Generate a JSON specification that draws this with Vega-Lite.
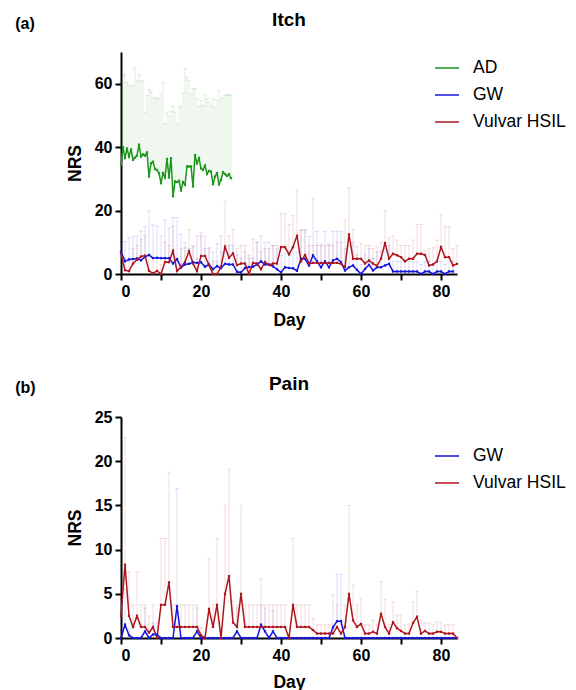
{
  "$schema": "https://vega.github.io/schema/vega-lite/v6.json",
  "padding": {"left": 15, "top": 11, "right": 5, "bottom": 5},
  "config": {
    "font": "Liberation Sans",
    "view": {"stroke": null},
    "axis": {"domainColor": "black", "domainWidth": 2, "tickColor": "black", "tickWidth": 2, "tickSize": 6, "labelFont": "Liberation Sans", "labelFontSize": 16, "labelFontWeight": "bold", "labelColor": "black", "labelPadding": 3, "titleFont": "Liberation Sans", "titleFontSize": 17.5, "titleFontWeight": "bold", "titleColor": "black", "grid": false},
    "title": {"font": "Liberation Sans", "fontSize": 19, "fontWeight": "bold", "color": "black"},
    "legend": {"title": null, "symbolType": "stroke", "symbolSize": 576, "symbolStrokeWidth": 1.5, "symbolOpacity": 1, "labelFont": "Liberation Sans", "labelFontSize": 17.5, "labelColor": "black", "labelOffset": 13, "rowPadding": 5}
  },
  "resolve": {"scale": {"color": "independent"}, "legend": {"color": "independent"}},
  "spacing": 46,
  "datasets": {
    "itch": [
      {"g":"AD","d":0,"m":34.4,"u":60.4},{"g":"AD","d":0.5,"m":40,"u":62.5},{"g":"AD","d":1,"m":36.5,"u":63},{"g":"AD","d":1.5,"m":39.6,"u":60.4},
      {"g":"AD","d":2,"m":37,"u":59.6},{"g":"AD","d":2.5,"m":39.3,"u":59.2},{"g":"AD","d":3,"m":36,"u":59.4},{"g":"AD","d":3.5,"m":36.7,"u":65.1},
      {"g":"AD","d":4,"m":37.3,"u":61},{"g":"AD","d":4.5,"m":40.8,"u":62.7},{"g":"AD","d":5,"m":37,"u":60.6},{"g":"AD","d":5.5,"m":37.7,"u":61},
      {"g":"AD","d":6,"m":37.3,"u":51},{"g":"AD","d":6.5,"m":38.3,"u":56.3},{"g":"AD","d":7,"m":30.7,"u":58.1},{"g":"AD","d":7.5,"m":34.9,"u":57.5},
      {"g":"AD","d":8,"m":35.4,"u":55.4},{"g":"AD","d":8.5,"m":33.1,"u":55.7},{"g":"AD","d":9,"m":32.8,"u":55.2},{"g":"AD","d":9.5,"m":31.8,"u":55.4},
      {"g":"AD","d":10,"m":28.6,"u":56.8},{"g":"AD","d":10.5,"m":31.8,"u":60.4},{"g":"AD","d":11,"m":30.4,"u":47.4},{"g":"AD","d":11.5,"m":36.3,"u":51},
      {"g":"AD","d":12,"m":30.4,"u":49.7},{"g":"AD","d":12.5,"m":36.5,"u":51.2},{"g":"AD","d":13,"m":24.5,"u":52.9},{"g":"AD","d":13.5,"m":29.2,"u":51},
      {"g":"AD","d":14,"m":29,"u":47.4},{"g":"AD","d":14.5,"m":29.4,"u":52.6},{"g":"AD","d":15,"m":26.3,"u":53.1},{"g":"AD","d":15.5,"m":29,"u":57.1},
      {"g":"AD","d":16,"m":28.1,"u":64.8},{"g":"AD","d":16.5,"m":33.9,"u":62},{"g":"AD","d":17,"m":33.9,"u":61},{"g":"AD","d":17.5,"m":33.9,"u":56.8},
      {"g":"AD","d":18,"m":27.6,"u":58.3},{"g":"AD","d":18.5,"m":37.5,"u":58.5},{"g":"AD","d":19,"m":34.9,"u":55.2},{"g":"AD","d":19.5,"m":36.5,"u":52.9},
      {"g":"AD","d":20,"m":33.3,"u":54.7},{"g":"AD","d":20.5,"m":32.8,"u":53.1},{"g":"AD","d":21,"m":34.2,"u":56.5},{"g":"AD","d":21.5,"m":31.5,"u":55.2},
      {"g":"AD","d":22,"m":32.5,"u":54.2},{"g":"AD","d":22.5,"m":32.3,"u":53.1},{"g":"AD","d":23,"m":28.3,"u":55.2},{"g":"AD","d":23.5,"m":30.7,"u":52.6},
      {"g":"AD","d":24,"m":31.8,"u":54.7},{"g":"AD","d":24.5,"m":28.3,"u":57.8},{"g":"AD","d":25,"m":29.7,"u":55.2},{"g":"AD","d":25.5,"m":32.1,"u":55.7},
      {"g":"AD","d":26,"m":31.5,"u":56.3},{"g":"AD","d":26.5,"m":30.9,"u":56.5},{"g":"AD","d":27,"m":31.5,"u":56.5},{"g":"AD","d":27.5,"m":30.2,"u":56.5},

      {"g":"GW","d":0,"m":7,"u":19},{"g":"GW","d":1,"m":4,"u":10.2},{"g":"GW","d":2,"m":4.6,"u":11.4},{"g":"GW","d":3,"m":4.7,"u":11.8},
      {"g":"GW","d":4,"m":4.9,"u":12},{"g":"GW","d":5,"m":4.3,"u":13.6},{"g":"GW","d":6,"m":5.4,"u":15},{"g":"GW","d":7,"m":6,"u":19.8},
      {"g":"GW","d":8,"m":5,"u":15.5},{"g":"GW","d":9,"m":5.1,"u":15.2},{"g":"GW","d":10,"m":5,"u":12},{"g":"GW","d":11,"m":5,"u":17},
      {"g":"GW","d":12,"m":5,"u":14.4},{"g":"GW","d":13,"m":3.3,"u":17.8},{"g":"GW","d":14,"m":4.7,"u":17.8},{"g":"GW","d":15,"m":2,"u":12.5},
      {"g":"GW","d":16,"m":3,"u":8.3},{"g":"GW","d":17,"m":3.2,"u":8},{"g":"GW","d":18,"m":3.7,"u":8.6},{"g":"GW","d":19,"m":3.5,"u":12},
      {"g":"GW","d":20,"m":3.7,"u":12},{"g":"GW","d":21,"m":2.3,"u":8},{"g":"GW","d":22,"m":3,"u":8.3},{"g":"GW","d":23,"m":1.5,"u":7},
      {"g":"GW","d":24,"m":2.5,"u":9.6},{"g":"GW","d":25,"m":1.8,"u":12},{"g":"GW","d":26,"m":3.2,"u":8},{"g":"GW","d":27,"m":3,"u":9},
      {"g":"GW","d":28,"m":3,"u":9},{"g":"GW","d":29,"m":0.7,"u":6},{"g":"GW","d":30,"m":0.5,"u":5},{"g":"GW","d":31,"m":1.9,"u":7},
      {"g":"GW","d":32,"m":2.2,"u":6},{"g":"GW","d":33,"m":2.3,"u":5},{"g":"GW","d":34,"m":3,"u":10},{"g":"GW","d":35,"m":4,"u":12},
      {"g":"GW","d":36,"m":3,"u":8},{"g":"GW","d":37,"m":3,"u":10},{"g":"GW","d":38,"m":2.4,"u":9},{"g":"GW","d":39,"m":1.5,"u":8},
      {"g":"GW","d":40,"m":0.5,"u":6},{"g":"GW","d":41,"m":2.1,"u":8},{"g":"GW","d":42,"m":1.9,"u":7},{"g":"GW","d":43,"m":1.8,"u":8},
      {"g":"GW","d":44,"m":1,"u":7},{"g":"GW","d":45,"m":4.8,"u":13.9},{"g":"GW","d":46,"m":4.8,"u":13.9},{"g":"GW","d":47,"m":2.7,"u":11.8},
      {"g":"GW","d":48,"m":5.9,"u":23.9},{"g":"GW","d":49,"m":4,"u":13.4},{"g":"GW","d":50,"m":2.1,"u":9.4},{"g":"GW","d":51,"m":4,"u":13.4},
      {"g":"GW","d":52,"m":2.1,"u":9.4},{"g":"GW","d":53,"m":4.3,"u":13.4},{"g":"GW","d":54,"m":4.8,"u":13.6},{"g":"GW","d":55,"m":3.7,"u":13.4},
      {"g":"GW","d":56,"m":1.1,"u":8},{"g":"GW","d":57,"m":2.1,"u":9},{"g":"GW","d":58,"m":2.7,"u":10},{"g":"GW","d":59,"m":1.3,"u":6},
      {"g":"GW","d":60,"m":0,"u":3},{"g":"GW","d":61,"m":1.6,"u":6},{"g":"GW","d":62,"m":2.9,"u":8},{"g":"GW","d":63,"m":1.1,"u":5},
      {"g":"GW","d":64,"m":2.1,"u":7},{"g":"GW","d":65,"m":2.1,"u":7},{"g":"GW","d":66,"m":2.7,"u":8},{"g":"GW","d":67,"m":3.2,"u":9},
      {"g":"GW","d":68,"m":0.8,"u":4},{"g":"GW","d":69,"m":0.8,"u":4},{"g":"GW","d":70,"m":0.8,"u":4},{"g":"GW","d":71,"m":0.8,"u":4},
      {"g":"GW","d":72,"m":0.8,"u":4},{"g":"GW","d":73,"m":0.8,"u":4},{"g":"GW","d":74,"m":0.8,"u":4},{"g":"GW","d":75,"m":0,"u":3},
      {"g":"GW","d":76,"m":0.8,"u":4},{"g":"GW","d":77,"m":0.8,"u":4},{"g":"GW","d":78,"m":0,"u":3},{"g":"GW","d":79,"m":0.8,"u":4},
      {"g":"GW","d":80,"m":0.8,"u":4},{"g":"GW","d":81,"m":0,"u":3},{"g":"GW","d":82,"m":0.8,"u":4},{"g":"GW","d":83,"m":0.8,"u":4},

      {"g":"Vulvar HSIL","d":0,"m":6.5,"u":10},{"g":"Vulvar HSIL","d":1,"m":1.2,"u":5},{"g":"Vulvar HSIL","d":2,"m":0.9,"u":4},{"g":"Vulvar HSIL","d":3,"m":3.3,"u":8},
      {"g":"Vulvar HSIL","d":4,"m":4.5,"u":9},{"g":"Vulvar HSIL","d":5,"m":5.5,"u":11},{"g":"Vulvar HSIL","d":6,"m":5.8,"u":12},{"g":"Vulvar HSIL","d":7,"m":1,"u":6},
      {"g":"Vulvar HSIL","d":8,"m":0.2,"u":4},{"g":"Vulvar HSIL","d":9,"m":1,"u":5},{"g":"Vulvar HSIL","d":10,"m":0,"u":3},{"g":"Vulvar HSIL","d":11,"m":3.8,"u":10},
      {"g":"Vulvar HSIL","d":12,"m":3.7,"u":9},{"g":"Vulvar HSIL","d":13,"m":7.3,"u":15},{"g":"Vulvar HSIL","d":14,"m":0.9,"u":5},{"g":"Vulvar HSIL","d":15,"m":2.2,"u":8},
      {"g":"Vulvar HSIL","d":16,"m":3.8,"u":10},{"g":"Vulvar HSIL","d":17,"m":7.2,"u":14},{"g":"Vulvar HSIL","d":18,"m":3.3,"u":9},{"g":"Vulvar HSIL","d":19,"m":0.9,"u":5},
      {"g":"Vulvar HSIL","d":20,"m":5.7,"u":13},{"g":"Vulvar HSIL","d":21,"m":5.7,"u":12},{"g":"Vulvar HSIL","d":22,"m":2.8,"u":8},{"g":"Vulvar HSIL","d":23,"m":0,"u":4},
      {"g":"Vulvar HSIL","d":24,"m":0,"u":4},{"g":"Vulvar HSIL","d":25,"m":2.2,"u":7},{"g":"Vulvar HSIL","d":26,"m":8.6,"u":23},{"g":"Vulvar HSIL","d":27,"m":5.1,"u":12},
      {"g":"Vulvar HSIL","d":28,"m":6.5,"u":14},{"g":"Vulvar HSIL","d":29,"m":2.8,"u":8},{"g":"Vulvar HSIL","d":30,"m":3.3,"u":9},{"g":"Vulvar HSIL","d":31,"m":3.3,"u":9},
      {"g":"Vulvar HSIL","d":32,"m":0,"u":5},{"g":"Vulvar HSIL","d":33,"m":3.5,"u":11},{"g":"Vulvar HSIL","d":34,"m":3.3,"u":10},{"g":"Vulvar HSIL","d":35,"m":1.5,"u":7},
      {"g":"Vulvar HSIL","d":36,"m":3.8,"u":10},{"g":"Vulvar HSIL","d":37,"m":2.8,"u":8},{"g":"Vulvar HSIL","d":38,"m":3.3,"u":9},{"g":"Vulvar HSIL","d":39,"m":3.3,"u":9},
      {"g":"Vulvar HSIL","d":40,"m":8.5,"u":19.2},{"g":"Vulvar HSIL","d":41,"m":8.5,"u":19},{"g":"Vulvar HSIL","d":42,"m":6.2,"u":15.6},{"g":"Vulvar HSIL","d":43,"m":8.5,"u":18.4},
      {"g":"Vulvar HSIL","d":44,"m":12.1,"u":26.5},{"g":"Vulvar HSIL","d":45,"m":4,"u":13.9},{"g":"Vulvar HSIL","d":46,"m":6,"u":13.9},{"g":"Vulvar HSIL","d":47,"m":3.3,"u":9},
      {"g":"Vulvar HSIL","d":48,"m":3.5,"u":9},{"g":"Vulvar HSIL","d":49,"m":3.5,"u":9},{"g":"Vulvar HSIL","d":50,"m":3.5,"u":9},{"g":"Vulvar HSIL","d":51,"m":3.5,"u":9},
      {"g":"Vulvar HSIL","d":52,"m":3.5,"u":9},{"g":"Vulvar HSIL","d":53,"m":3.5,"u":9},{"g":"Vulvar HSIL","d":54,"m":3.5,"u":10},{"g":"Vulvar HSIL","d":55,"m":3.2,"u":10},
      {"g":"Vulvar HSIL","d":56,"m":2.2,"u":17},{"g":"Vulvar HSIL","d":57,"m":12.5,"u":27.3},{"g":"Vulvar HSIL","d":58,"m":4.8,"u":14},{"g":"Vulvar HSIL","d":59,"m":4.8,"u":8.6},
      {"g":"Vulvar HSIL","d":60,"m":4.8,"u":9.7},{"g":"Vulvar HSIL","d":61,"m":3.3,"u":9},{"g":"Vulvar HSIL","d":62,"m":4.3,"u":9},{"g":"Vulvar HSIL","d":63,"m":3.3,"u":8},
      {"g":"Vulvar HSIL","d":64,"m":2.6,"u":8.5},{"g":"Vulvar HSIL","d":65,"m":4.8,"u":10},{"g":"Vulvar HSIL","d":66,"m":9.8,"u":19.9},{"g":"Vulvar HSIL","d":67,"m":4.8,"u":11.4},
      {"g":"Vulvar HSIL","d":68,"m":6.4,"u":12},{"g":"Vulvar HSIL","d":69,"m":5.9,"u":10.7},{"g":"Vulvar HSIL","d":70,"m":5.3,"u":9},{"g":"Vulvar HSIL","d":71,"m":4,"u":9},
      {"g":"Vulvar HSIL","d":72,"m":4.8,"u":9},{"g":"Vulvar HSIL","d":73,"m":4.8,"u":10.7},{"g":"Vulvar HSIL","d":74,"m":6.4,"u":15.6},{"g":"Vulvar HSIL","d":75,"m":6.4,"u":15.6},
      {"g":"Vulvar HSIL","d":76,"m":6,"u":7.5},{"g":"Vulvar HSIL","d":77,"m":2.7,"u":8},{"g":"Vulvar HSIL","d":78,"m":3,"u":8.5},{"g":"Vulvar HSIL","d":79,"m":4,"u":10.7},
      {"g":"Vulvar HSIL","d":80,"m":8.5,"u":18.8},{"g":"Vulvar HSIL","d":81,"m":5.3,"u":14.9},{"g":"Vulvar HSIL","d":82,"m":5.3,"u":14.9},{"g":"Vulvar HSIL","d":83,"m":2.7,"u":8},
      {"g":"Vulvar HSIL","d":84,"m":3.2,"u":8.9}
    ],
    "pain": [
      {"g":"GW","d":0,"m":0,"u":0},{"g":"GW","d":1,"m":1.5,"u":5.5},{"g":"GW","d":2,"m":0.3,"u":1},{"g":"GW","d":3,"m":0,"u":0},{"g":"GW","d":4,"m":0,"u":0},
      {"g":"GW","d":5,"m":0,"u":0},{"g":"GW","d":6,"m":0.75,"u":3.4},{"g":"GW","d":7,"m":0,"u":0},{"g":"GW","d":8,"m":0.4,"u":1.7},{"g":"GW","d":9,"m":0.4,"u":1.7},
      {"g":"GW","d":10,"m":0,"u":0},{"g":"GW","d":11,"m":0,"u":0},{"g":"GW","d":12,"m":0,"u":0},{"g":"GW","d":13,"m":0,"u":0},{"g":"GW","d":14,"m":3.6,"u":16.9},
      {"g":"GW","d":15,"m":0,"u":0},{"g":"GW","d":16,"m":0,"u":0},{"g":"GW","d":17,"m":0,"u":0},{"g":"GW","d":18,"m":0,"u":0},{"g":"GW","d":19,"m":0.75,"u":3.4},
      {"g":"GW","d":20,"m":0,"u":0},{"g":"GW","d":21,"m":0,"u":0},{"g":"GW","d":22,"m":0,"u":0},{"g":"GW","d":23,"m":0,"u":0},{"g":"GW","d":24,"m":0,"u":0},
      {"g":"GW","d":25,"m":0,"u":0},{"g":"GW","d":26,"m":0,"u":0},{"g":"GW","d":27,"m":0,"u":0},{"g":"GW","d":28,"m":0,"u":0},{"g":"GW","d":29,"m":0.75,"u":3.4},
      {"g":"GW","d":30,"m":0,"u":0},{"g":"GW","d":31,"m":0,"u":0},{"g":"GW","d":32,"m":0,"u":0},{"g":"GW","d":33,"m":0,"u":0},{"g":"GW","d":34,"m":0,"u":0},
      {"g":"GW","d":35,"m":1.5,"u":6.7},{"g":"GW","d":36,"m":0.75,"u":3.4},{"g":"GW","d":37,"m":0,"u":0},{"g":"GW","d":38,"m":0.75,"u":3.1},{"g":"GW","d":39,"m":0,"u":0},
      {"g":"GW","d":40,"m":0,"u":0},{"g":"GW","d":41,"m":0,"u":0},{"g":"GW","d":42,"m":0,"u":0},{"g":"GW","d":43,"m":0,"u":0},{"g":"GW","d":44,"m":0,"u":0},
      {"g":"GW","d":45,"m":0,"u":0},{"g":"GW","d":46,"m":0,"u":0},{"g":"GW","d":47,"m":0,"u":0},{"g":"GW","d":48,"m":0,"u":0},{"g":"GW","d":49,"m":0,"u":0},
      {"g":"GW","d":50,"m":0,"u":0},{"g":"GW","d":51,"m":0,"u":0},{"g":"GW","d":52,"m":0,"u":0},{"g":"GW","d":53,"m":1.2,"u":4.9},{"g":"GW","d":54,"m":1.9,"u":7.2},
      {"g":"GW","d":55,"m":1.9,"u":7.2},{"g":"GW","d":56,"m":0,"u":0},{"g":"GW","d":57,"m":0,"u":0},{"g":"GW","d":58,"m":0,"u":0},{"g":"GW","d":59,"m":0,"u":0},
      {"g":"GW","d":60,"m":0,"u":0},{"g":"GW","d":61,"m":0,"u":0},{"g":"GW","d":62,"m":0,"u":0},{"g":"GW","d":63,"m":0,"u":0},{"g":"GW","d":64,"m":0,"u":0},
      {"g":"GW","d":65,"m":0,"u":0},{"g":"GW","d":66,"m":0,"u":0},{"g":"GW","d":67,"m":0,"u":0},{"g":"GW","d":68,"m":0,"u":0},{"g":"GW","d":69,"m":0,"u":0},
      {"g":"GW","d":70,"m":0,"u":0},{"g":"GW","d":71,"m":0,"u":0},{"g":"GW","d":72,"m":0,"u":0},{"g":"GW","d":73,"m":0,"u":0},{"g":"GW","d":74,"m":0,"u":0},
      {"g":"GW","d":75,"m":0,"u":0},{"g":"GW","d":76,"m":0,"u":0},{"g":"GW","d":77,"m":0,"u":0},{"g":"GW","d":78,"m":0,"u":0},{"g":"GW","d":79,"m":0,"u":0},
      {"g":"GW","d":80,"m":0,"u":0},{"g":"GW","d":81,"m":0,"u":0},{"g":"GW","d":82,"m":0,"u":0},{"g":"GW","d":83,"m":0,"u":0},{"g":"GW","d":84,"m":0,"u":0},

      {"g":"Vulvar HSIL","d":0,"m":2.5,"u":5},{"g":"Vulvar HSIL","d":1,"m":8.3,"u":22.7},{"g":"Vulvar HSIL","d":2,"m":2.5,"u":7.5},{"g":"Vulvar HSIL","d":3,"m":1.25,"u":3.75},
      {"g":"Vulvar HSIL","d":4,"m":2.5,"u":7.5},{"g":"Vulvar HSIL","d":5,"m":1.25,"u":3.75},{"g":"Vulvar HSIL","d":6,"m":1.25,"u":3.75},{"g":"Vulvar HSIL","d":7,"m":0.6,"u":2.5},
      {"g":"Vulvar HSIL","d":8,"m":1.25,"u":3.75},{"g":"Vulvar HSIL","d":9,"m":0,"u":0},{"g":"Vulvar HSIL","d":10,"m":3.75,"u":11.25},{"g":"Vulvar HSIL","d":11,"m":3.75,"u":11.25},
      {"g":"Vulvar HSIL","d":12,"m":6.3,"u":18.75},{"g":"Vulvar HSIL","d":13,"m":1.25,"u":3.75},{"g":"Vulvar HSIL","d":14,"m":1.25,"u":3.75},{"g":"Vulvar HSIL","d":15,"m":1.25,"u":3.75},
      {"g":"Vulvar HSIL","d":16,"m":1.25,"u":3.75},{"g":"Vulvar HSIL","d":17,"m":1.25,"u":3.75},{"g":"Vulvar HSIL","d":18,"m":1.25,"u":3.75},{"g":"Vulvar HSIL","d":19,"m":1.25,"u":3.75},
      {"g":"Vulvar HSIL","d":20,"m":0.3,"u":1.2},{"g":"Vulvar HSIL","d":21,"m":0,"u":0},{"g":"Vulvar HSIL","d":22,"m":3.3,"u":9},{"g":"Vulvar HSIL","d":23,"m":1.25,"u":3.75},
      {"g":"Vulvar HSIL","d":24,"m":3.75,"u":11.25},{"g":"Vulvar HSIL","d":25,"m":0,"u":0},{"g":"Vulvar HSIL","d":26,"m":5,"u":15},{"g":"Vulvar HSIL","d":27,"m":7,"u":19.1},
      {"g":"Vulvar HSIL","d":28,"m":1.75,"u":4.2},{"g":"Vulvar HSIL","d":29,"m":1.25,"u":3.75},{"g":"Vulvar HSIL","d":30,"m":5,"u":15},{"g":"Vulvar HSIL","d":31,"m":1.25,"u":3.75},
      {"g":"Vulvar HSIL","d":32,"m":1.25,"u":3.75},{"g":"Vulvar HSIL","d":33,"m":1.25,"u":3.75},{"g":"Vulvar HSIL","d":34,"m":1.25,"u":3.75},{"g":"Vulvar HSIL","d":35,"m":1.25,"u":3.75},
      {"g":"Vulvar HSIL","d":36,"m":1.25,"u":3.75},{"g":"Vulvar HSIL","d":37,"m":1.25,"u":3.75},{"g":"Vulvar HSIL","d":38,"m":1.25,"u":3.75},{"g":"Vulvar HSIL","d":39,"m":1.25,"u":3.75},
      {"g":"Vulvar HSIL","d":40,"m":1.25,"u":3.75},{"g":"Vulvar HSIL","d":41,"m":1.25,"u":3.75},{"g":"Vulvar HSIL","d":42,"m":0,"u":0},{"g":"Vulvar HSIL","d":43,"m":3.75,"u":11.25},
      {"g":"Vulvar HSIL","d":44,"m":1.25,"u":3.75},{"g":"Vulvar HSIL","d":45,"m":1.25,"u":3.75},{"g":"Vulvar HSIL","d":46,"m":1.25,"u":3.75},{"g":"Vulvar HSIL","d":47,"m":1.25,"u":3.75},
      {"g":"Vulvar HSIL","d":48,"m":0.9,"u":2.2},{"g":"Vulvar HSIL","d":49,"m":0.5,"u":1.5},{"g":"Vulvar HSIL","d":50,"m":0.5,"u":1.5},{"g":"Vulvar HSIL","d":51,"m":0.5,"u":1.5},
      {"g":"Vulvar HSIL","d":52,"m":0.5,"u":1.5},{"g":"Vulvar HSIL","d":53,"m":0.5,"u":1.5},{"g":"Vulvar HSIL","d":54,"m":1.25,"u":3.75},{"g":"Vulvar HSIL","d":55,"m":0.5,"u":1.5},
      {"g":"Vulvar HSIL","d":56,"m":1.25,"u":3.75},{"g":"Vulvar HSIL","d":57,"m":5,"u":15},{"g":"Vulvar HSIL","d":58,"m":2,"u":6},{"g":"Vulvar HSIL","d":59,"m":1.25,"u":3.75},
      {"g":"Vulvar HSIL","d":60,"m":1.6,"u":4.5},{"g":"Vulvar HSIL","d":61,"m":0.5,"u":1.5},{"g":"Vulvar HSIL","d":62,"m":0.5,"u":1.5},{"g":"Vulvar HSIL","d":63,"m":0.7,"u":2},
      {"g":"Vulvar HSIL","d":64,"m":0.5,"u":1.5},{"g":"Vulvar HSIL","d":65,"m":2.75,"u":6.4},{"g":"Vulvar HSIL","d":66,"m":1.25,"u":4.4},{"g":"Vulvar HSIL","d":67,"m":0.5,"u":1.5},
      {"g":"Vulvar HSIL","d":68,"m":1.8,"u":4.1},{"g":"Vulvar HSIL","d":69,"m":1.1,"u":2.6},{"g":"Vulvar HSIL","d":70,"m":0.8,"u":2.6},{"g":"Vulvar HSIL","d":71,"m":0.5,"u":1.5},
      {"g":"Vulvar HSIL","d":72,"m":0.5,"u":1.6},{"g":"Vulvar HSIL","d":73,"m":1.7,"u":4.1},{"g":"Vulvar HSIL","d":74,"m":2.4,"u":5.3},{"g":"Vulvar HSIL","d":75,"m":0.5,"u":2},
      {"g":"Vulvar HSIL","d":76,"m":0.8,"u":1.7},{"g":"Vulvar HSIL","d":77,"m":0.5,"u":1.7},{"g":"Vulvar HSIL","d":78,"m":0.5,"u":1.5},{"g":"Vulvar HSIL","d":79,"m":0.7,"u":1.8},
      {"g":"Vulvar HSIL","d":80,"m":0.7,"u":1.8},{"g":"Vulvar HSIL","d":81,"m":0.5,"u":1.5},{"g":"Vulvar HSIL","d":82,"m":0.5,"u":1.5},{"g":"Vulvar HSIL","d":83,"m":0.5,"u":1.5},
      {"g":"Vulvar HSIL","d":84,"m":0,"u":0}
    ]
  },
  "vconcat": [
    {
      "title": {"text": "(a)", "anchor": "start", "fontSize": 16, "offset": -21, "dx": -51},
      "vconcat": [
        {
          "width": 336, "height": 222,
          "title": {"text": "Itch", "anchor": "middle", "offset": 22},
          "data": {"name": "itch"},
          "encoding": {
            "x": {"field": "d", "type": "quantitative", "title": "Day", "scale": {"domain": [0, 84], "nice": false},
                  "axis": {"values": [0,10,20,30,40,50,60,70,80], "labelExpr": "datum.value % 20 === 0 ? datum.label : ''", "titlePadding": 12}},
            "color": {"field": "g", "type": "nominal", "scale": {"domain": ["AD", "GW", "Vulvar HSIL"], "range": ["#1c961c", "#1414e0", "#b0141c"]},
                      "legend": {"orient": "none", "legendX": 313, "legendY": 3, "encode": {"symbols": {"update": {"opacity": {"value": 1}}}}}}
          },
          "layer": [
            {"mark": {"type": "rule", "opacity": 0.14, "strokeWidth": 1},
             "encoding": {"y": {"field": "m", "type": "quantitative", "title": "NRS", "scale": {"domain": [0, 70], "nice": false},
                                "axis": {"values": [0,10,20,30,40,50,60,70], "labelExpr": "datum.value % 20 === 0 ? datum.label : ''", "titlePadding": 10}},
                          "y2": {"field": "u"}}},
            {"transform": [{"filter": "datum.u > datum.m"}],
             "mark": {"type": "tick", "orient": "horizontal", "size": 4, "thickness": 1, "opacity": 0.14},
             "encoding": {"y": {"field": "u", "type": "quantitative", "title": "NRS"}}},
            {"mark": {"type": "line", "strokeWidth": 1.5, "point": {"filled": true, "size": 5, "shape": "square"}},
             "encoding": {"y": {"field": "m", "type": "quantitative", "title": "NRS"}}}
          ]
        }
      ]
    },
    {
      "title": {"text": "(b)", "anchor": "start", "fontSize": 16, "offset": -21, "dx": -51},
      "vconcat": [
        {
          "width": 336, "height": 221,
          "title": {"text": "Pain", "anchor": "middle", "offset": 15},
          "data": {"name": "pain"},
          "encoding": {
            "x": {"field": "d", "type": "quantitative", "title": "Day", "scale": {"domain": [0, 84], "nice": false},
                  "axis": {"values": [0,10,20,30,40,50,60,70,80], "labelExpr": "datum.value % 20 === 0 ? datum.label : ''", "titlePadding": 10}},
            "color": {"field": "g", "type": "nominal", "scale": {"domain": ["GW", "Vulvar HSIL"], "range": ["#1414e0", "#b0141c"]},
                      "legend": {"orient": "none", "legendX": 313, "legendY": 26, "encode": {"symbols": {"update": {"opacity": {"value": 1}}}}}}
          },
          "layer": [
            {"mark": {"type": "rule", "opacity": 0.14, "strokeWidth": 1},
             "encoding": {"y": {"field": "m", "type": "quantitative", "title": "NRS", "scale": {"domain": [0, 25], "nice": false},
                                "axis": {"values": [0,2.5,5,7.5,10,12.5,15,17.5,20,22.5,25], "labelExpr": "datum.value % 5 === 0 ? datum.label : ''", "titlePadding": 10}},
                          "y2": {"field": "u"}}},
            {"transform": [{"filter": "datum.u > datum.m"}],
             "mark": {"type": "tick", "orient": "horizontal", "size": 4, "thickness": 1, "opacity": 0.14},
             "encoding": {"y": {"field": "u", "type": "quantitative", "title": "NRS"}}},
            {"mark": {"type": "line", "strokeWidth": 1.5, "point": {"filled": true, "size": 5, "shape": "square"}},
             "encoding": {"y": {"field": "m", "type": "quantitative", "title": "NRS"}}}
          ]
        }
      ]
    }
  ]
}
